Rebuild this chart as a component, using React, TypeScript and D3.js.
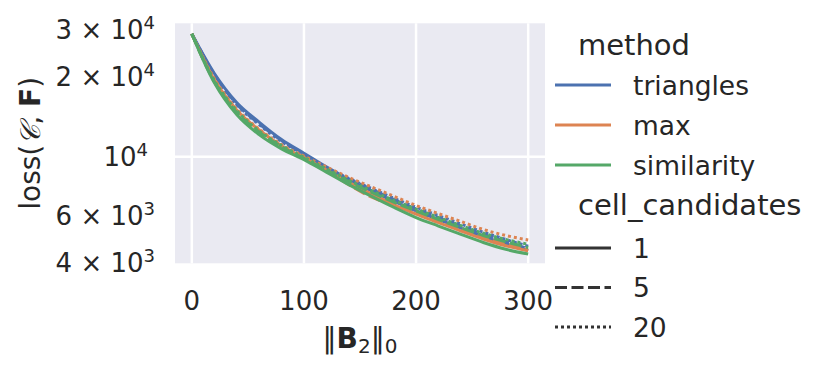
import React from 'react';
import * as d3 from 'd3';

const steps = [0, 20, 40, 60, 80, 100, 120, 140, 160, 180, 200, 220, 240, 260, 280, 300];

const methods = ['triangles', 'max', 'similarity'];
const candidates = ['1', '5', '20'];

const triangles1 = [29000, 20600, 16000, 13500, 11600, 10300, 9150, 8200, 7450, 6800, 6250, 5800, 5380, 5000, 4700, 4430];
const triangles5 = [29000, 20400, 15800, 13300, 11500, 10200, 9100, 8250, 7550, 6900, 6350, 5900, 5480, 5100, 4800, 4500];
const triangles20 = [29000, 20300, 15700, 13200, 11400, 10150, 9100, 8280, 7600, 6980, 6450, 6000, 5580, 5200, 4880, 4600];
const max1 = [29000, 19500, 15000, 12600, 11000, 9900, 8900, 8000, 7250, 6600, 6080, 5650, 5250, 4900, 4620, 4420];
const max5 = [29000, 19300, 14900, 12500, 10900, 9950, 8850, 7850, 7050, 6550, 6150, 5720, 5330, 4980, 4700, 4480];
const max20 = [29000, 19700, 15100, 12700, 11100, 10050, 9150, 8350, 7700, 7100, 6550, 6100, 5700, 5320, 5050, 4860];
const similarity1 = [29000, 19000, 14400, 12100, 10700, 9750, 8750, 7850, 7100, 6450, 5900, 5480, 5100, 4750, 4480, 4300];
const similarity5 = [29000, 19200, 14700, 12400, 10900, 9850, 8900, 8050, 7350, 6750, 6250, 5800, 5400, 5050, 4780, 4550];
const similarity20 = [29000, 19400, 14900, 12500, 11000, 9950, 9000, 8150, 7450, 6850, 6350, 5900, 5500, 5150, 4880, 4680];

const seriesValues: Record<string, number[][]> = {
  triangles: [triangles1, triangles5, triangles20],
  max: [max1, max5, max20],
  similarity: [similarity1, similarity5, similarity20],
};

const xTicks = [0, 100, 200, 300];
const yMajor = [10000];
const yMinor = [
  { v: 30000, m: '3', e: '4' },
  { v: 20000, m: '2', e: '4' },
  { v: 6000, m: '6', e: '3' },
  { v: 4000, m: '4', e: '3' },
];

const colors = ['#4c72b0', '#dd8452', '#55a868'];
const LW = 3;
const dashes = ['none', `${4 * LW},${1.5 * LW}`, `${1 * LW},${1 * LW}`];

const W = 831;
const H = 375;
const left = 175, right = 545, top = 23.3, bottom = 263.3;
const font = 'DejaVu Sans';
const ink = '#262626';

export default function App() {
  const x = d3.scaleLinear().domain([-15, 315]).range([left, right]);
  const y = d3.scaleLog().domain([3968, 31770]).range([bottom, top]);

  const line = d3
    .line<number>()
    .x((_, i) => x(steps[i]))
    .y((d) => y(d))
    .curve(d3.curveMonotoneX);

  return (
    <svg width={W} height={H} style={{ position: 'absolute', left: 0, top: 0 }} fontFamily={font}>
      <rect x={0} y={0} width={W} height={H} fill="#fff" />
      <rect x={left} y={top} width={right - left} height={bottom - top} fill="#eaeaf2" />
      {/* grid */}
      {xTicks.map((t) => (
        <line key={'gx' + t} x1={x(t)} x2={x(t)} y1={top} y2={bottom} stroke="#fff" strokeWidth={2.5} />
      ))}
      {yMajor.map((t) => (
        <line key={'gy' + t} x1={left} x2={right} y1={y(t)} y2={y(t)} stroke="#fff" strokeWidth={2.5} />
      ))}
      {/* lines */}
      <g clipPath="url(#plotclip)">
        {methods.map((m, mi) =>
          seriesValues[m].map((vals, ci) => (
            <path
              key={m + ci}
              d={line(vals) || ''}
              fill="none"
              stroke={colors[mi]}
              strokeWidth={LW}
              strokeDasharray={dashes[ci]}
              strokeLinecap="butt"
              strokeLinejoin="round"
            />
          ))
        )}
      </g>
      <defs>
        <clipPath id="plotclip">
          <rect x={left} y={top} width={right - left} height={bottom - top} />
        </clipPath>
      </defs>
      {/* x ticks */}
      {xTicks.map((t) => (
        <text key={'xt' + t} x={x(t)} y={310} textAnchor="middle" fontSize={26} fill={ink}>
          {t}
        </text>
      ))}
      {/* y ticks */}
      {yMajor.map((t) => (
        <text key={'ym' + t} x={148} y={y(t) + 9.5} textAnchor="end" fontSize={26} fill={ink}>
          10<tspan fontSize={18} dy={-10}>4</tspan>
        </text>
      ))}
      {yMinor.map((t) => (
        <text key={'yn' + t.v} x={155} y={y(t.v) + 9.5} textAnchor="end" fontSize={26} fill={ink}>
          {t.m} × 10<tspan fontSize={18} dy={-10}>{t.e}</tspan>
        </text>
      ))}
      {/* axis labels */}
      <text x={360} y={348} textAnchor="middle" fontSize={28} fill={ink}>
        ‖<tspan fontWeight="bold">B</tspan>
        <tspan fontSize={20} dy={5}>2</tspan>
        <tspan dy={-5}>‖</tspan>
        <tspan fontSize={20} dy={5}>0</tspan>
      </text>
      <text transform={`translate(40,${(top + bottom) / 2}) rotate(-90)`} textAnchor="middle" fontSize={28} fill={ink}>
        loss(<tspan fontStyle="italic" fontFamily="DejaVu Serif">𝒞</tspan>, <tspan fontWeight="bold">F</tspan>)
      </text>
      {/* legend */}
      <text x={578} y={55} fontSize={29} fill={ink}>method</text>
      {methods.map((m, i) => (
        <g key={'lm' + m}>
          <line x1={555} x2={611} y1={85 + i * 40} y2={85 + i * 40} stroke={colors[i]} strokeWidth={LW} />
          <text x={633} y={94.5 + i * 40} fontSize={26.5} fill={ink}>{m}</text>
        </g>
      ))}
      <text x={578} y={215} fontSize={29} fill={ink}>cell_candidates</text>
      {candidates.map((c, i) => (
        <g key={'lc' + c}>
          <line
            x1={555}
            x2={611}
            y1={248 + i * 39.5}
            y2={248 + i * 39.5}
            stroke="#333333"
            strokeWidth={LW}
            strokeDasharray={dashes[i]}
          />
          <text x={633} y={257.5 + i * 39.5} fontSize={26.5} fill={ink}>{c}</text>
        </g>
      ))}
    </svg>
  );
}
